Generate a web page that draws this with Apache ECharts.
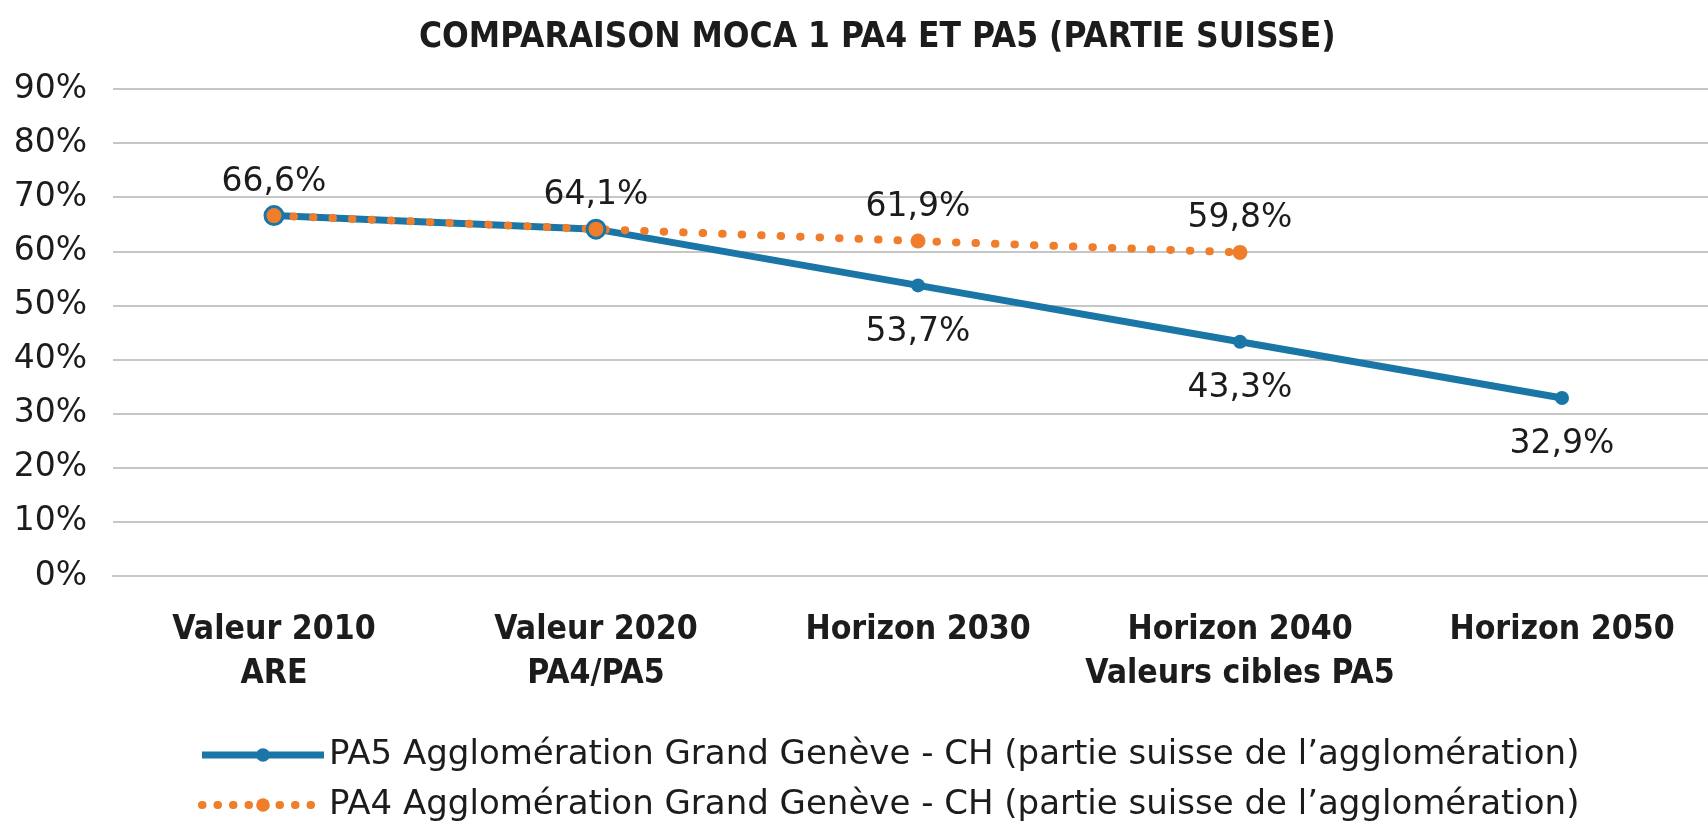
<!DOCTYPE html>
<html>
<head>
<meta charset="utf-8">
<script src="https://cdn.jsdelivr.net/npm/echarts@6/dist/echarts.min.js"></script>
<style>
  html, body { margin: 0; padding: 0; background: #fff; }
  #chart { width: 1708px; height: 826px; }
</style>
</head>
<body>
<div id="chart"></div>
<script>
const categories = [
  'Valeur 2010\nARE',
  'Valeur 2020\nPA4/PA5',
  'Horizon 2030',
  'Horizon 2040\nValeurs cibles PA5',
  'Horizon 2050'
]
const pa5Values = [66.6, 64.1, 53.7, 43.3, 32.9]
const pa4Values = [66.6, 64.1, 61.9, 59.8, null]
const yTicks = { min: 0, max: 90, interval: 10 }
const seriesNames = [
  'PA5 Agglomération Grand Genève - CH (partie suisse de l’agglomération)',
  'PA4 Agglomération Grand Genève - CH (partie suisse de l’agglomération)'
]

const BLUE = '#1a76a6'
const ORANGE = '#ef7d2c'
const TEXT = '#1c1c1c'
const FONT = 'DejaVu Sans'
const FONT_BOLD = 'DejaVu Sans Condensed'

const fmt = v => v.toFixed(1).replace('.', ',') + '%'

const blueLine = { color: BLUE, width: 7 }
const orangeLine = { color: ORANGE, width: 8, type: [0.5, 19], cap: 'round' }

// les deux premiers points sont communs : une seule étiquette au-dessus
const pa5Data = pa5Values.map((v, i) => ({
  value: v,
  label: i < 2 ? { position: 'top', distance: 10 } : { position: 'bottom', distance: 23 }
}))
const pa4Data = pa4Values.map((v, i) => ({
  value: v,
  symbolSize: i < 2 ? 18 : 15,
  itemStyle: i < 2 ? { borderColor: BLUE, borderWidth: 3 } : {},
  label: { show: i >= 2 && v != null }
}))

const chart = echarts.init(document.getElementById('chart'))
chart.setOption({
  animation: false,
  title: {
    text: 'COMPARAISON MOCA 1 PA4 ET PA5 (PARTIE SUISSE)',
    left: 419,
    top: 20,
    padding: 0,
    textStyle: {
      fontFamily: FONT_BOLD,
      fontWeight: 'bold',
      fontSize: 35,
      color: TEXT
    }
  },
  grid: {
    left: 113,
    right: -15,
    top: 89,
    bottom: 250,
    outerBoundsMode: 'none'
  },
  legend: {
    orient: 'vertical',
    left: 198,
    top: 737,
    padding: 0,
    itemWidth: 122,
    itemHeight: 17,
    itemGap: 14,
    textStyle: {
      fontFamily: FONT,
      fontSize: 34,
      lineHeight: 36,
      color: TEXT
    },
    data: [
      { name: seriesNames[0], lineStyle: blueLine },
      { name: seriesNames[1], lineStyle: { color: ORANGE, width: 8, type: [0.5, 15], cap: 'round' } }
    ]
  },
  xAxis: {
    type: 'category',
    data: categories,
    axisTick: { show: false },
    axisLine: { lineStyle: { color: '#c6c6c6', width: 2 } },
    axisLabel: {
      margin: 32,
      interval: 0,
      fontFamily: FONT_BOLD,
      fontWeight: 'bold',
      fontSize: 33.5,
      lineHeight: 44,
      color: TEXT
    }
  },
  yAxis: {
    type: 'value',
    min: yTicks.min,
    max: yTicks.max,
    interval: yTicks.interval,
    axisLine: { show: false },
    axisTick: { show: false },
    splitLine: { lineStyle: { color: '#c6c6c6', width: 2 } },
    axisLabel: {
      margin: 26,
      formatter: '{value}%',
      fontFamily: FONT,
      fontSize: 33,
      color: TEXT
    }
  },
  series: [
    {
      name: seriesNames[0],
      type: 'line',
      data: pa5Data,
      z: 2,
      symbol: 'circle',
      symbolSize: 14,
      color: BLUE,
      itemStyle: { color: BLUE },
      lineStyle: blueLine,
      label: {
        show: true,
        formatter: p => fmt(p.value),
        fontFamily: FONT,
        fontSize: 33,
        color: TEXT
      }
    },
    {
      name: seriesNames[1],
      type: 'line',
      data: pa4Data,
      z: 3,
      symbol: 'circle',
      color: ORANGE,
      itemStyle: { color: ORANGE },
      lineStyle: orangeLine,
      label: {
        show: true,
        position: 'top',
        distance: 10,
        formatter: p => fmt(p.value),
        fontFamily: FONT,
        fontSize: 33,
        color: TEXT
      }
    }
  ]
})
window.addEventListener('resize', () => {
  chart.resize()
})
</script>
</body>
</html>
